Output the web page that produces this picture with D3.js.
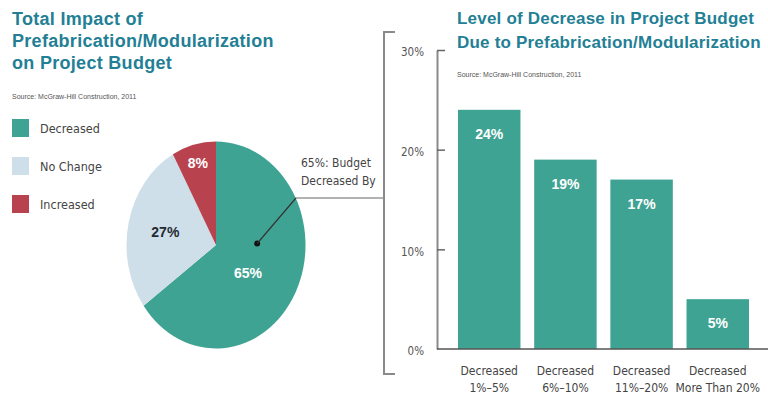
<!DOCTYPE html>
<html>
<head>
<meta charset="utf-8">
<script src="https://cdn.jsdelivr.net/npm/d3@7"></script>
<style>
  body { margin: 0; background: #fff; }
  svg { display: block; }
  .title { font-family: "Liberation Sans", Arial, sans-serif; font-weight: bold; fill: #237f95; }
  .cond { font-family: "Liberation Sans Narrow", "DejaVu Sans Condensed", sans-serif; }
</style>
</head>
<body>
<div id="chart"></div>
<script>
/* DATA */
const pieCategories = ["Decreased", "No Change", "Increased"];
const pieValues = [65, 27, 8];
const pieColors = ["#3fa393", "#cfdfe9", "#b8434f"];

const barCategories = [["Decreased", "1%–5%"], ["Decreased", "6%–10%"], ["Decreased", "11%–20%"], ["Decreased", "More Than 20%"]];
const barValues = [24, 19, 17, 5];
const yTicks = [0, 10, 20, 30];

/* LAYOUT */
const width = 768, height = 397;
const pieCenter = { x: 216, y: 245 }, pieR = 89.5, pieStretch = 1.156;
const labelR = [0.45, 0.58, 0.82];

const svg = d3.select("#chart").append("svg")
  .attr("width", width)
  .attr("height", height);

// left titles
svg.append("text").attr("class", "title")
  .attr("font-size", 18).attr("letter-spacing", 0.3)
  .selectAll("tspan")
  .data(["Total Impact of", "Prefabrication/Modularization", "on Project Budget"])
  .join("tspan")
  .attr("x", 12)
  .attr("y", (d, i) => 25 + i * 22)
  .text(d => d);

svg.append("text")
  .attr("x", 12).attr("y", 99)
  .attr("font-family", "Liberation Sans Narrow, sans-serif")
  .attr("font-size", 7).attr("fill", "#555")
  .text("Source: McGraw-Hill Construction, 2011");

// legend
const legend = svg.append("g").selectAll("g")
  .data(pieCategories)
  .join("g")
  .attr("transform", (d, i) => `translate(12, ${119 + i * 38})`);
legend.append("rect").attr("width", 17).attr("height", 18)
  .attr("fill", (d, i) => pieColors[i]);
legend.append("text").attr("class", "cond")
  .attr("x", 28).attr("y", 13.5)
  .attr("font-size", 12.5).attr("fill", "#444")
  .text(d => d);

// pie
const pie = d3.pie().sort(null).value(d => d);
const arcs = pie(pieValues);
const arc = d3.arc().innerRadius(0).outerRadius(pieR);

const pieG = svg.append("g")
  .attr("transform", `translate(${pieCenter.x},${pieCenter.y}) scale(1,${pieStretch})`);
pieG.selectAll("path")
  .data(arcs)
  .join("path")
  .attr("d", arc)
  .attr("fill", (d, i) => pieColors[i]);

const polar = (ang, r) => [pieCenter.x + r * Math.sin(ang), pieCenter.y - r * Math.cos(ang) * pieStretch];

svg.append("g").selectAll("text")
  .data(arcs)
  .join("text")
  .each(function (d, i) {
    const mid = (d.startAngle + d.endAngle) / 2 + (i === 0 ? 0.18 : 0);
    const p = polar(mid, pieR * labelR[i]);
    d3.select(this).attr("x", p[0]).attr("y", p[1] + 5);
  })
  .attr("text-anchor", "middle")
  .attr("font-family", "Liberation Sans, Arial, sans-serif")
  .attr("font-weight", "bold")
  .attr("font-size", 14)
  .attr("fill", (d, i) => i === 1 ? "#1f2a33" : "#fff")
  .text(d => d.data + "%");

// callout
const dot = polar(Math.PI * 0.49, pieR * 0.46);
svg.append("circle").attr("cx", dot[0]).attr("cy", dot[1]).attr("r", 3).attr("fill", "#111");
svg.append("polyline")
  .attr("points", `${dot[0]},${dot[1]} 296,198`)
  .attr("fill", "none").attr("stroke", "#333").attr("stroke-width", 1.2);
svg.append("path")
  .attr("d", "M384,198 L296,198")
  .attr("stroke", "#999").attr("stroke-width", 1.5);
svg.append("text").attr("class", "cond")
  .attr("font-size", 12).attr("fill", "#444")
  .selectAll("tspan")
  .data([pieValues[0] + "%: Budget", "Decreased By"])
  .join("tspan")
  .attr("x", 301)
  .attr("y", (d, i) => 167 + i * 18)
  .text(d => d);

// bracket
svg.append("path")
  .attr("d", "M395,32 L384,32 L384,374 L395,374")
  .attr("fill", "none").attr("stroke", "#8a8a8a").attr("stroke-width", 2);

// right titles
svg.append("text").attr("class", "title")
  .attr("font-size", 17).attr("letter-spacing", 0.2)
  .selectAll("tspan")
  .data(["Level of Decrease in Project Budget", "Due to Prefabrication/Modularization"])
  .join("tspan")
  .attr("x", 457)
  .attr("y", (d, i) => 24 + i * 24)
  .text(d => d);

svg.append("text")
  .attr("x", 457).attr("y", 77)
  .attr("font-family", "Liberation Sans Narrow, sans-serif")
  .attr("font-size", 7).attr("fill", "#555")
  .text("Source: McGraw-Hill Construction, 2011");

// bar chart
const xScale = d3.scaleBand()
  .domain(barCategories.map((d, i) => i))
  .range([458, 749])
  .paddingInner(0.18);

const yScale = d3.scaleLinear()
  .domain([0, 30])
  .range([349, 50]);

const yAxis = d3.axisLeft(yScale)
  .tickValues(yTicks)
  .tickFormat(d => d + "%")
  .tickSizeInner(-8)
  .tickSizeOuter(0)
  .tickPadding(13);

const yAxisGroup = svg.append("g")
  .attr("transform", "translate(437,0)")
  .call(yAxis);
yAxisGroup.select(".domain").attr("stroke", "#8a8a8a").attr("stroke-width", 2);
yAxisGroup.selectAll(".tick line").attr("stroke", "#666").attr("stroke-width", 1.5);
yAxisGroup.selectAll(".tick").filter(d => d === 0).select("line").remove();
yAxisGroup.selectAll(".tick text")
  .attr("class", "cond")
  .attr("font-size", 11.5)
  .attr("fill", "#555")
  .attr("dy", "0.5em");

svg.append("g").selectAll("rect")
  .data(barValues)
  .join("rect")
  .attr("x", (d, i) => xScale(i))
  .attr("y", d => yScale(d))
  .attr("width", xScale.bandwidth())
  .attr("height", d => yScale(0) - yScale(d))
  .attr("fill", "#3fa393");

svg.append("g").selectAll("text")
  .data(barValues)
  .join("text")
  .attr("x", (d, i) => xScale(i) + xScale.bandwidth() / 2)
  .attr("y", d => yScale(d) + 29)
  .attr("text-anchor", "middle")
  .attr("font-family", "Liberation Sans, Arial, sans-serif")
  .attr("font-weight", "bold")
  .attr("font-size", 14)
  .attr("fill", "#fff")
  .text(d => d + "%");

// baseline
svg.append("line")
  .attr("x1", 437).attr("x2", width)
  .attr("y1", yScale(0)).attr("y2", yScale(0))
  .attr("stroke", "#555").attr("stroke-width", 1.5);

// category labels
svg.append("g").selectAll("text")
  .data(barCategories)
  .join("text")
  .attr("class", "cond")
  .attr("text-anchor", "middle")
  .attr("font-size", 12)
  .attr("fill", "#444")
  .each(function (d, i) {
    d3.select(this).selectAll("tspan")
      .data(d)
      .join("tspan")
      .attr("x", xScale(i) + xScale.bandwidth() / 2)
      .attr("y", (t, j) => 375 + j * 17)
      .text(t => t);
  });
</script>
</body>
</html>
